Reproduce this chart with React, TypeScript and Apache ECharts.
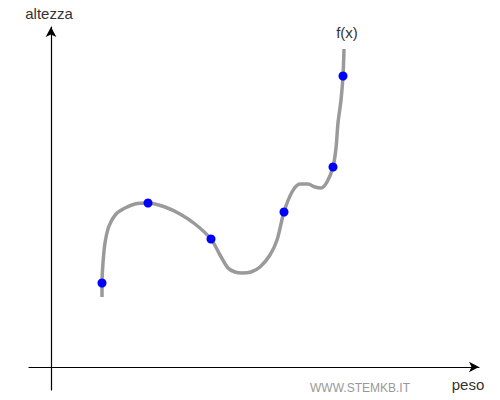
import React, { useEffect, useRef } from "react";
import * as echarts from "echarts";

// Curve f(x): peso (x) vs altezza (y), units measured from the axes' origin
const curvePeso = [51, 51, 52, 54, 58, 65, 74, 84, 97, 114, 129, 144, 160, 169, 177, 184, 191, 200, 209, 219, 226, 233, 241, 249, 257, 264, 270, 276, 282, 285, 287, 290, 292, 293];
const curveAltezza = [70, 84, 104, 124, 141, 153, 159, 163, 164, 160, 153, 143, 128, 112, 99, 95, 94, 95, 100, 112, 127, 155, 175, 183, 183, 180, 179, 185, 200, 219, 244, 267, 291, 318];

// Marked points (blue)
const pointPeso = [51, 97, 160, 233, 282, 292];
const pointAltezza = [84, 164, 128, 155, 200, 291];

const xLabel = "peso";
const yLabel = "altezza";
const curveLabel = "f(x)";
const watermark = "WWW.STEMKB.IT";

export default function App() {
  const ref = useRef<HTMLDivElement>(null);
  useEffect(() => {
    if (!ref.current) return;
    const chart = echarts.init(ref.current, null, { renderer: "svg" });
    const font = "Arial, 'Liberation Sans', sans-serif";
    chart.setOption({
      animation: false,
      backgroundColor: "#ffffff",
      grid: { left: 29, top: 27, width: 450, height: 363 },
      xAxis: {
        type: "value",
        min: -22,
        max: 428,
        axisLine: {
          onZero: true,
          symbol: ["none", "arrow"],
          symbolSize: [8, 10],
          lineStyle: { color: "#000", width: 1.2 },
        },
        axisTick: { show: false },
        axisLabel: { show: false },
        splitLine: { show: false },
      },
      yAxis: {
        type: "value",
        min: -23,
        max: 340,
        axisLine: {
          onZero: true,
          symbol: ["none", "arrow"],
          symbolSize: [8, 10],
          lineStyle: { color: "#000", width: 1.2 },
        },
        axisTick: { show: false },
        axisLabel: { show: false },
        splitLine: { show: false },
      },
      series: [
        {
          type: "line",
          data: curvePeso.map((x, i) => [x, curveAltezza[i]]),
          smooth: 0.3,
          showSymbol: false,
          lineStyle: { color: "#9a9a9a", width: 3.5 },
          z: 2,
        },
        {
          type: "scatter",
          data: pointPeso.map((x, i) => [x, pointAltezza[i]]),
          symbolSize: 9,
          itemStyle: { color: "#0000ff", opacity: 1 },
          z: 3,
        },
      ],
      graphic: [
        {
          type: "text",
          x: 49,
          y: 13,
          style: { text: yLabel, font: `15px ${font}`, fill: "#333", align: "center", verticalAlign: "middle" },
        },
        {
          type: "text",
          x: 468,
          y: 384,
          style: { text: xLabel, font: `15px ${font}`, fill: "#333", align: "center", verticalAlign: "middle" },
        },
        {
          type: "text",
          x: 347,
          y: 32,
          style: { text: curveLabel, font: `15px ${font}`, fill: "#333", align: "center", verticalAlign: "middle" },
        },
        {
          type: "text",
          x: 360,
          y: 388,
          style: { text: watermark, font: `12px ${font}`, fill: "#999", align: "center", verticalAlign: "middle" },
        },
      ],
    });
    return () => chart.dispose();
  }, []);
  return <div ref={ref} style={{ width: 500, height: 400, position: "absolute", left: 0, top: 0 }} />;
}
